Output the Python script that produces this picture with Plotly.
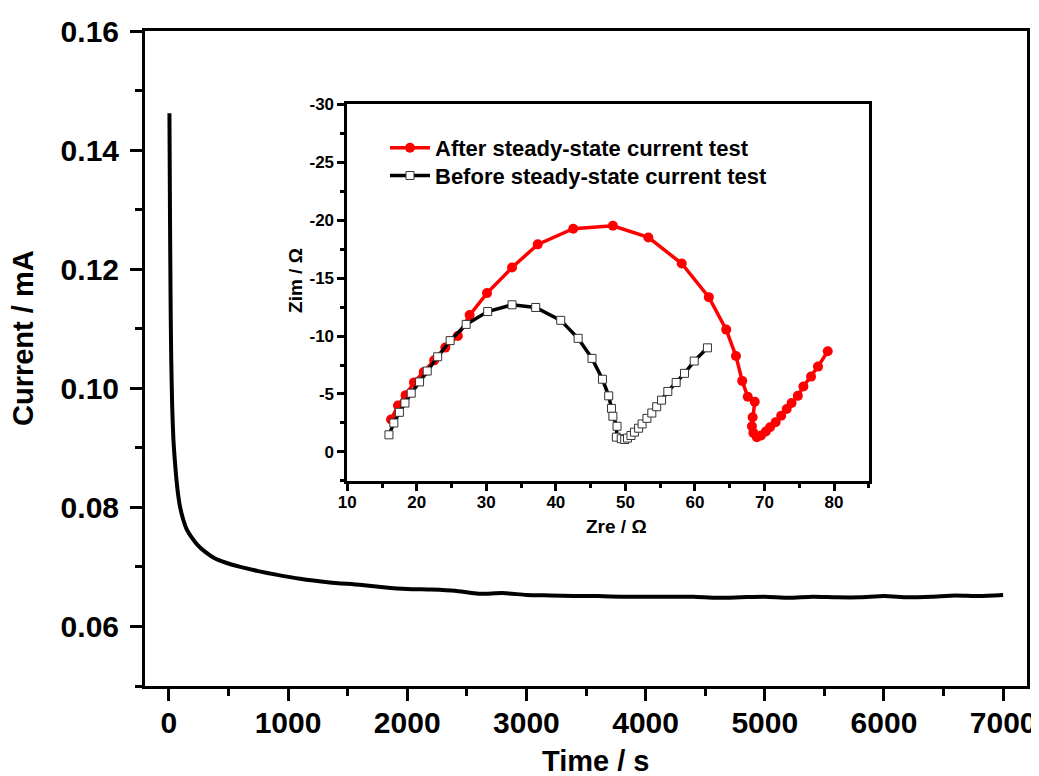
import plotly.graph_objects as go

# ---- main chart: steady-state current vs time ----
time_s = [5, 10, 15, 20, 28, 38, 48, 60, 75, 95, 120, 150, 190, 240, 300, 380, 480,
          600, 750, 900, 1100, 1350, 1600, 1800, 2000, 2200, 2400, 2600, 2800, 3000,
          3200, 3400, 3600, 3800, 4000, 4200, 4400, 4600, 4800, 5000, 5200, 5400,
          5600, 5800, 6000, 6200, 6400, 6600, 6800, 7000]
current_mA = [0.1462, 0.128, 0.114, 0.105, 0.097, 0.0915, 0.0885, 0.0855, 0.0826,
              0.0800, 0.0780, 0.0763, 0.0750, 0.0737, 0.0726, 0.0715, 0.0707,
              0.0700, 0.0693, 0.0687, 0.0680, 0.0674, 0.0670, 0.0666, 0.0663,
              0.0662, 0.0660, 0.0655, 0.0656, 0.0653, 0.0652, 0.0651, 0.0651,
              0.0650, 0.0650, 0.0650, 0.0650, 0.0648, 0.0649, 0.0650, 0.0648,
              0.0650, 0.0649, 0.0649, 0.0651, 0.0649, 0.0650, 0.0652, 0.0651, 0.0653]
main_y_ticks = [0.06, 0.08, 0.10, 0.12, 0.14, 0.16]

# ---- inset: Nyquist plots ----
after_zre = [16.3, 17.3, 18.4, 19.6, 21.0, 22.5, 24.1, 25.9, 27.6, 30.1, 33.7, 37.4,
             42.5, 48.2, 53.3, 58.1, 62.0, 64.5, 65.9, 66.8, 67.6, 68.6, 68.3, 68.2,
             68.4, 68.9, 69.5, 70.2, 70.8, 71.6, 72.4, 73.2, 73.9, 74.8, 75.6, 76.7,
             77.7, 79.1]
after_zim = [-2.8, -4.0, -4.9, -6.0, -6.9, -7.9, -9.0, -10.0, -11.8, -13.7, -15.9,
             -17.9, -19.25, -19.5, -18.5, -16.25, -13.35, -10.55, -8.27, -6.13,
             -4.76, -4.33, -2.99, -2.22, -1.65, -1.28, -1.42, -1.76, -2.14, -2.57,
             -3.13, -3.70, -4.22, -4.84, -5.64, -6.50, -7.36, -8.69]

before_zre = [16.0, 16.7, 17.5, 18.3, 19.2, 20.4, 21.5, 23.0, 24.8, 27.1, 30.2, 33.7,
              37.1, 40.7, 43.2, 45.2, 46.7, 47.6, 48.0, 48.2, 48.8, 48.7, 49.4, 49.9,
              50.3, 50.8, 51.3, 51.9, 52.4, 53.1, 53.8, 54.5, 55.2, 56.1, 57.3, 58.5,
              59.9, 61.8]
before_zim = [-1.48, -2.5, -3.42, -4.22, -5.07, -6.04, -6.98, -8.21, -9.6, -11.0,
              -12.11, -12.69, -12.46, -11.35, -9.8, -8.07, -6.27, -4.84, -3.76, -3.08,
              -2.22, -1.28, -1.14, -1.08, -1.2, -1.42, -1.71, -2.05, -2.42, -2.9,
              -3.36, -3.9, -4.47, -5.22, -5.99, -6.78, -7.84, -8.98]

zim_tick_vals = [0, -5, -10, -15, -20, -25, -30]
zim_tick_text = ["0", "-5", "-10", "-15", "-20", "-25", "-30"]

FONT = "Liberation Sans, Arial, sans-serif"

fig = go.Figure()
fig.add_trace(go.Scatter(x=time_s, y=current_mA, mode="lines",
                         line=dict(color="black", width=4, shape="spline", smoothing=0.6),
                         showlegend=False, xaxis="x", yaxis="y"))
fig.add_trace(go.Scatter(x=after_zre, y=after_zim, mode="lines+markers",
                         name="After steady-state current test", legend="legend",
                         line=dict(color="#ff0000", width=3.5),
                         marker=dict(symbol="circle", size=10, color="#ff0000"),
                         xaxis="x2", yaxis="y2"))
fig.add_trace(go.Scatter(x=before_zre, y=before_zim, mode="lines+markers",
                         name="Before steady-state current test", legend="legend2",
                         line=dict(color="black", width=3.5),
                         marker=dict(symbol="square", size=8, color="white",
                                     line=dict(color="#333333", width=1)),
                         xaxis="x2", yaxis="y2"))

main_tick = dict(family=FONT, size=30, color="black", weight="bold")
inset_tick = dict(family=FONT, size=17, color="black", weight="bold")
legend_font = dict(family=FONT, size=22, color="black", weight="bold")

fig.update_layout(
    width=1031, height=768,
    margin=dict(l=137, r=12, t=23, b=90),
    paper_bgcolor="white", plot_bgcolor="white",
    font=dict(family=FONT, color="black", weight="bold"),
    xaxis=dict(range=[-200, 7200], dtick=1000, tick0=0, showgrid=False, zeroline=False,
               automargin=False, ticklabelstandoff=-4,
               showline=True, linecolor="black", linewidth=3, mirror=True,
               ticks="outside", ticklen=12, tickwidth=3, tickcolor="black",
               minor=dict(dtick=500, ticks="outside", ticklen=7, tickwidth=3, tickcolor="black"),
               tickfont=main_tick),
    yaxis=dict(range=[0.05, 0.16], tickvals=main_y_ticks, tickformat=".2f", showgrid=False,
               automargin=False, ticklabelstandoff=5,
               zeroline=False, showline=True, linecolor="black", linewidth=3, mirror=True,
               ticks="outside", ticklen=12, tickwidth=3, tickcolor="black",
               minor=dict(dtick=0.01, tick0=0, ticks="outside", ticklen=7, tickwidth=3, tickcolor="black"),
               tickfont=main_tick),
    xaxis2=dict(domain=[0.2293, 0.8206], anchor="y2", range=[10, 85], dtick=10, tick0=0,
                automargin=False, ticklabelstandoff=-3,
                showgrid=False, zeroline=False, showline=True, linecolor="black",
                linewidth=2.5, mirror=True, ticks="outside", ticklen=7, tickwidth=2.5,
                tickcolor="black",
                minor=dict(dtick=5, ticks="outside", ticklen=4, tickwidth=2.5, tickcolor="black"),
                tickfont=inset_tick),
    yaxis2=dict(domain=[0.3130, 0.8885], anchor="x2", range=[2.5, -30],
                tickvals=zim_tick_vals, ticktext=zim_tick_text,
                automargin=False,
                showgrid=False, zeroline=False, showline=True, linecolor="black",
                linewidth=2.5, mirror=True, ticks="outside", ticklen=7, tickwidth=2.5,
                tickcolor="black",
                minor=dict(dtick=2.5, tick0=0, ticks="outside", ticklen=4, tickwidth=2.5, tickcolor="black"),
                tickfont=inset_tick),
    legend=dict(x=0.2721, y=0.8534, xanchor="left", yanchor="top",
                bgcolor="rgba(0,0,0,0)", borderwidth=0,
                font=legend_font, itemwidth=40),
    legend2=dict(x=0.2721, y=0.8111, xanchor="left", yanchor="top",
                 bgcolor="rgba(0,0,0,0)", borderwidth=0,
                 font=legend_font, itemwidth=40),
    annotations=[
        dict(text="Time / s", xref="paper", yref="paper", x=0.5113, y=-0.1145,
             xanchor="center", yanchor="middle", showarrow=False,
             font=dict(family=FONT, size=29, color="black", weight="bold")),
        dict(text="Current / mA", xref="paper", yref="paper", x=-0.1383, y=0.5313,
             xanchor="center", yanchor="middle", textangle=-90, showarrow=False,
             font=dict(family=FONT, size=29, color="black", weight="bold")),
        dict(text="Zre / Ω", xref="paper", yref="paper", x=0.5348, y=0.2432,
             xanchor="center", yanchor="middle", showarrow=False,
             font=dict(family=FONT, size=19, color="black", weight="bold")),
        dict(text="Zim / Ω", xref="paper", yref="paper", x=0.170, y=0.6198,
             xanchor="center", yanchor="middle", textangle=-90, showarrow=False,
             font=dict(family=FONT, size=19, color="black", weight="bold")),
    ],
)

fig.write_html("out.html")
